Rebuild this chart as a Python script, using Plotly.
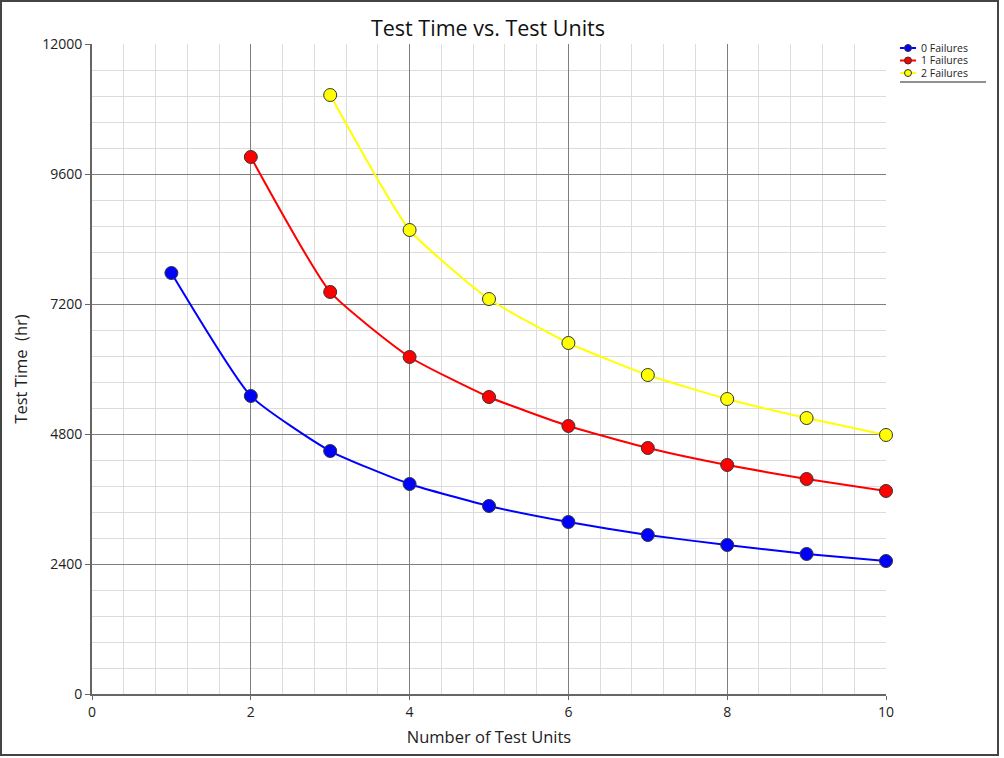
import plotly.graph_objects as go

units = [1, 2, 3, 4, 5, 6, 7, 8, 9, 10]
fail0 = [7772, 5502, 4486, 3877, 3471, 3175, 2935, 2751, 2585, 2455]
units1 = [2, 3, 4, 5, 6, 7, 8, 9, 10]
fail1 = [9914, 7422, 6222, 5483, 4948, 4542, 4228, 3969, 3748]
units2 = [3, 4, 5, 6, 7, 8, 9, 10]
fail2 = [11058, 8566, 7292, 6480, 5889, 5446, 5095, 4782]

names = ["0 Failures", "1 Failures", "2 Failures"]
colors = ["#0000ff", "#ff0000", "#ffff00"]
yticks = [0, 2400, 4800, 7200, 9600, 12000]
xticks = [0, 2, 4, 6, 8, 10]

W, H = 1004, 758
L, R, T, B = 92, 886, 44, 694
pw, ph = R - L, B - T

def px(x):
    return (x - L) / pw

def py(y):
    return (B - y) / ph

fig = go.Figure()
for xs, ys, n, c in [(units, fail0, names[0], colors[0]),
                     (units1, fail1, names[1], colors[1]),
                     (units2, fail2, names[2], colors[2])]:
    fig.add_trace(go.Scatter(
        x=xs, y=ys, name=n, mode="lines+markers", showlegend=False,
        line=dict(color=c, width=2, shape="spline", smoothing=0.5),
        marker=dict(size=13, color=c, line=dict(color="#333333", width=1)),
        cliponaxis=False,
    ))

font = "Open Sans, DejaVu Sans, sans-serif"

shapes = [
    dict(type="rect", xref="paper", yref="paper",
         x0=px(1), x1=px(998), y0=py(1), y1=py(755),
         line=dict(color="#444444", width=2), layer="below"),
    dict(type="line", xref="paper", yref="paper",
         x0=px(900), x1=px(986), y0=py(82), y1=py(82),
         line=dict(color="#222222", width=1)),
]
annotations = []
leg_y = [48, 60.5, 73]
for n, c, yy in zip(names, colors, leg_y):
    shapes.append(dict(type="line", xref="paper", yref="paper",
                       x0=px(900), x1=px(916), y0=py(yy), y1=py(yy),
                       line=dict(color=c, width=2)))
    r = 3.5
    shapes.append(dict(type="circle", xref="paper", yref="paper",
                       x0=px(908 - r), x1=px(908 + r), y0=py(yy - r), y1=py(yy + r),
                       fillcolor=c, line=dict(color="#333333", width=1)))
    annotations.append(dict(text=n, xref="paper", yref="paper", x=px(920), y=py(yy),
                            xanchor="left", yanchor="middle", showarrow=False,
                            borderpad=0,
                            font=dict(size=10.5, color="#222222")))

fig.update_layout(
    width=W, height=H,
    margin=dict(l=L, r=W - R, t=T, b=H - B, autoexpand=False),
    paper_bgcolor="white", plot_bgcolor="white",
    font=dict(family=font, size=14, color="#222222"),
    title=dict(text="Test Time vs. Test Units", x=488 / W, xanchor="center",
               y=1 - 28 / H, yanchor="middle", font=dict(size=21.5, color="#111111")),
    showlegend=False,
    xaxis=dict(range=[0, 10], tickvals=xticks, ticktext=[str(v) for v in xticks], showgrid=True,
               gridcolor="#7f7f7f", gridwidth=1,
               minor=dict(dtick=0.4, showgrid=True, gridcolor="#dcdcdc", gridwidth=1),
               showline=True, linecolor="#666666", linewidth=2,
               ticks="outside", ticklen=4, tickcolor="#666666",
               zeroline=False,
               title=dict(text="Number of Test Units", font=dict(size=16.5), standoff=12),
               tickfont=dict(size=14)),
    yaxis=dict(range=[0, 12000], tickvals=yticks, ticktext=[str(v) for v in yticks], showgrid=True,
               gridcolor="#7f7f7f", gridwidth=1,
               minor=dict(dtick=480, showgrid=True, gridcolor="#dcdcdc", gridwidth=1),
               showline=True, linecolor="#666666", linewidth=2,
               ticks="outside", ticklen=5, tickcolor="#666666",
               zeroline=False,
               title=dict(text="Test Time\u00a0\u00a0(hr)", font=dict(size=16.5), standoff=10),
               tickfont=dict(size=14)),
    shapes=shapes,
    annotations=annotations,
)

fig.write_html("out.html")
